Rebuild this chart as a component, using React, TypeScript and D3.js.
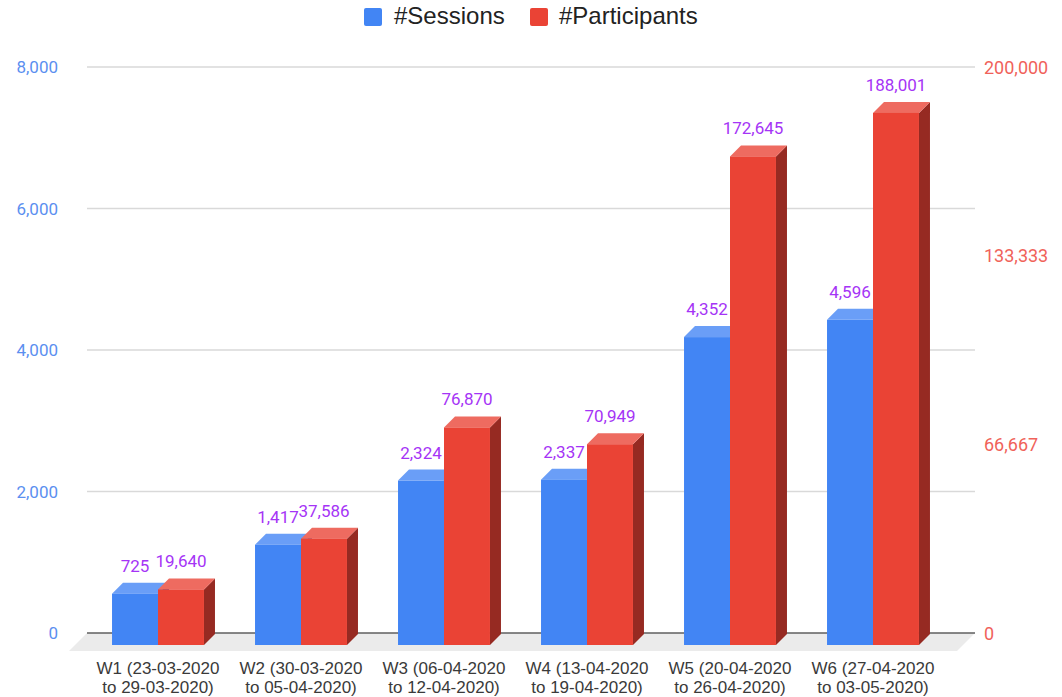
import React from "react";
import * as d3 from "d3";

const categories: string[][] = [
  ["W1 (23-03-2020", "to 29-03-2020)"],
  ["W2 (30-03-2020", "to 05-04-2020)"],
  ["W3 (06-04-2020", "to 12-04-2020)"],
  ["W4 (13-04-2020", "to 19-04-2020)"],
  ["W5 (20-04-2020", "to 26-04-2020)"],
  ["W6 (27-04-2020", "to 03-05-2020)"],
];
const sessions: number[] = [725, 1417, 2324, 2337, 4352, 4596];
const participants: number[] = [19640, 37586, 76870, 70949, 172645, 188001];
const leftTicks: number[] = [0, 2000, 4000, 6000, 8000];
const rightTicks: number[] = [0, 66667, 133333, 200000];
const seriesNames: string[] = ["#Sessions", "#Participants"];

const W = 1062;
const H = 697;
const baseY = 633;
const topY = 67;
const gridX0 = 87;
const gridX1 = 975;
const frontOff = 12;
const depth = 11;

const colors = {
  blue: "#4285f4",
  blueTop: "#6a9ef7",
  red: "#ea4335",
  redTop: "#ee6b60",
  redSide: "#962a22",
  blueSide: "#2f62c0",
  label: "#a534f6",
  leftAxis: "#5b8ff0",
  rightAxis: "#f0625a",
};

export default function App() {
  const yL = d3.scaleLinear().domain([0, 8000]).range([baseY, topY]);
  const yR = d3.scaleLinear().domain([0, 200000]).range([baseY, topY]);
  const x = d3
    .scaleBand<number>()
    .domain(d3.range(categories.length))
    .range([86.5, 944.5])
    .paddingInner(0.357)
    .paddingOuter(0.1785);
  const bw = x.bandwidth() / 2;
  const fmt = d3.format(",");
  const bottomF = baseY + frontOff;

  const bar = (x0: number, yTop: number, front: string, top: string, side: string, key: string) => {
    const x1 = x0 + bw;
    return (
      <g key={key}>
        <polygon
          points={`${x1},${yTop} ${x1 + depth},${yTop - depth} ${x1 + depth},${bottomF - depth} ${x1},${bottomF}`}
          fill={side}
        />
        <polygon
          points={`${x0},${yTop} ${x0 + depth},${yTop - depth} ${x1 + depth},${yTop - depth} ${x1},${yTop}`}
          fill={top}
        />
        <rect x={x0} y={yTop} width={bw} height={bottomF - yTop} fill={front} />
      </g>
    );
  };

  return (
    <svg width={W} height={H} style={{ position: "absolute", left: 0, top: 0, background: "#fff" }}>
      {/* legend */}
      <g fontFamily="'Liberation Sans', Arial, sans-serif" fontSize={24} fill="#222">
        <rect x={364} y={8} width={18} height={18} rx={2} fill={colors.blue} />
        <text x={394} y={24}>{seriesNames[0]}</text>
        <rect x={530} y={8} width={18} height={18} rx={2} fill={colors.red} />
        <text x={559} y={24}>{seriesNames[1]}</text>
      </g>

      {/* floor */}
      <polygon
        points={`${gridX0},${baseY} ${gridX1},${baseY} ${gridX1 - 18},${baseY + 18} ${gridX0 - 18},${baseY + 18}`}
        fill="#ebebeb"
      />

      {/* gridlines */}
      {leftTicks.map((t) =>
        t === 0 ? null : (
          <line key={t} x1={gridX0} x2={gridX1} y1={yL(t)} y2={yL(t)} stroke="#d9d9d9" strokeWidth={1.5} />
        )
      )}
      <line x1={gridX0} x2={gridX1} y1={baseY} y2={baseY} stroke="#5f5f5f" strokeWidth={1.5} />

      {/* left axis labels */}
      <g fontFamily="Roboto, sans-serif" fontSize={17} fill={colors.leftAxis} textAnchor="end">
        {leftTicks.map((t) => (
          <text key={t} x={58} y={yL(t)} dominantBaseline="central">
            {fmt(t)}
          </text>
        ))}
      </g>
      {/* right axis labels */}
      <g fontFamily="Roboto, sans-serif" fontSize={18} fill={colors.rightAxis} textAnchor="start">
        {rightTicks.map((t) => (
          <text key={t} x={984} y={yR(t)} dominantBaseline="central">
            {fmt(t)}
          </text>
        ))}
      </g>

      {/* bars */}
      {categories.map((_, i) => {
        const xb = x(i) as number;
        const ySes = yL(sessions[i]) + frontOff;
        const yPar = yR(participants[i]) + frontOff;
        return (
          <g key={i}>
            {bar(xb, ySes, colors.blue, colors.blueTop, colors.blueSide, "s")}
            {bar(xb + bw, yPar, colors.red, colors.redTop, colors.redSide, "p")}
          </g>
        );
      })}

      {/* data labels */}
      <g fontFamily="Roboto, sans-serif" fontSize={17} fill={colors.label} textAnchor="middle">
        {categories.map((_, i) => {
          const xb = x(i) as number;
          const ySes = yL(sessions[i]) + frontOff;
          const yPar = yR(participants[i]) + frontOff;
          return (
            <g key={i}>
              <text x={xb + bw / 2} y={ySes - 22}>{fmt(sessions[i])}</text>
              <text x={xb + bw * 1.5} y={yPar - 22}>{fmt(participants[i])}</text>
            </g>
          );
        })}
      </g>

      {/* category labels */}
      <g fontFamily="'Liberation Sans', Arial, sans-serif" fontSize={17} fill="#3a3a3a" textAnchor="middle">
        {categories.map((c, i) => {
          const cx = (x(i) as number) + bw;
          return (
            <g key={i}>
              <text x={cx} y={674}>{c[0]}</text>
              <text x={cx} y={693}>{c[1]}</text>
            </g>
          );
        })}
      </g>
    </svg>
  );
}
